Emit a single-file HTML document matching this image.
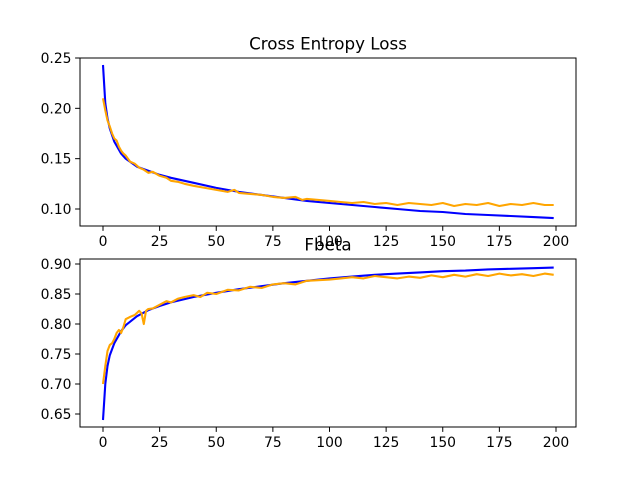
<!DOCTYPE html>
<html><head><meta charset="utf-8"><style>
body{margin:0;background:#fff}
svg{display:block;font-family:"DejaVu Sans","Liberation Sans",sans-serif}
</style></head><body>
<svg id="chart" width="640" height="480" viewBox="0 0 640 480"></svg>
<script>
// ---- data ----
const lossBlueX=[0,1,2,3,5,8,10,15,20,25,30,40,50,60,70,80,90,100,110,120,130,140,150,160,170,180,190,199];
const lossBlueY=[0.243,0.205,0.190,0.180,0.167,0.155,0.150,0.142,0.138,0.134,0.131,0.126,0.121,0.117,0.114,0.111,0.108,0.106,0.104,0.102,0.100,0.098,0.097,0.095,0.094,0.093,0.092,0.091];
const lossOrangeX=[0,1,2,3,4,5,6,7,8,9,10,12,14,16,18,20,22,25,28,30,33,36,40,45,50,55,58,60,65,70,75,80,85,88,90,95,100,105,110,115,120,125,130,135,140,145,150,155,160,165,170,175,180,185,190,195,199];
const lossOrangeY=[0.210,0.198,0.188,0.182,0.175,0.170,0.168,0.162,0.158,0.155,0.153,0.147,0.145,0.141,0.139,0.136,0.137,0.133,0.131,0.128,0.127,0.125,0.123,0.121,0.119,0.117,0.119,0.116,0.115,0.114,0.112,0.111,0.112,0.109,0.110,0.109,0.108,0.107,0.106,0.107,0.105,0.106,0.104,0.106,0.105,0.104,0.106,0.103,0.105,0.104,0.106,0.103,0.105,0.104,0.106,0.104,0.104];
const fbBlueX=[0,1,2,3,5,8,10,15,20,25,30,40,50,60,70,80,90,100,110,120,130,140,150,160,170,180,190,199];
const fbBlueY=[0.640,0.700,0.730,0.748,0.768,0.788,0.798,0.813,0.823,0.830,0.836,0.845,0.852,0.858,0.863,0.868,0.872,0.876,0.879,0.882,0.884,0.886,0.888,0.889,0.891,0.892,0.893,0.894];
const fbOrangeX=[0,1,2,3,4,5,6,7,8,9,10,12,14,16,17,18,19,20,22,25,28,30,33,36,40,43,46,50,55,60,65,70,75,80,85,90,95,100,105,110,115,120,125,130,135,140,145,150,155,160,165,170,175,180,185,190,195,199];
const fbOrangeY=[0.700,0.730,0.755,0.765,0.768,0.775,0.785,0.790,0.785,0.795,0.808,0.812,0.815,0.822,0.818,0.800,0.822,0.825,0.826,0.832,0.838,0.836,0.842,0.845,0.848,0.845,0.852,0.850,0.857,0.856,0.862,0.860,0.866,0.868,0.866,0.872,0.873,0.874,0.876,0.878,0.876,0.880,0.878,0.876,0.879,0.877,0.881,0.878,0.882,0.879,0.883,0.880,0.884,0.881,0.883,0.880,0.884,0.882];
const xTicks=[0,25,50,75,100,125,150,175,200];
const lossTicks=[0.10,0.15,0.20,0.25];
const fbTicks=[0.65,0.70,0.75,0.80,0.85,0.90];

const NS="http://www.w3.org/2000/svg";
const svg=document.getElementById('chart');
function el(t,a){const e=document.createElementNS(NS,t);for(const k in a)e.setAttribute(k,a[k]);svg.appendChild(e);return e;}
const xs=v=>103+v*(556-103)/200;

function panel(name,top,bottom,yScale,ticks,title,series){
  series.forEach(s=>{
    const d=s.x.map((v,i)=>(i?'L':'M')+xs(v).toFixed(1)+','+yScale(s.y[i]).toFixed(1)).join('');
    const p=el('path',{d:d,fill:'none',stroke:s.c,'stroke-width':2.1,'stroke-linejoin':'round'});
    
    
  });
  const r=el('rect',{x:80,y:top,width:496,height:bottom-top,fill:'none',stroke:'#000','stroke-width':1});
  
  
  xTicks.forEach(t=>{
    const x=xs(t);
    el('line',{x1:x,x2:x,y1:bottom,y2:bottom+4.9,stroke:'#000'});
    const tx=el('text',{x:x,y:bottom+20,'font-size':13.9,'text-anchor':'middle'});
    tx.textContent=t;
    
    
  });
  ticks.forEach(t=>{
    const y=yScale(t);
    el('line',{x1:75.1,x2:80,y1:y,y2:y,stroke:'#000'});
    const tx=el('text',{x:71.5,y:y+5,'font-size':13.9,'text-anchor':'end'});
    tx.textContent=t.toFixed(2);
    
    
  });
  const tt=el('text',{x:328,y:top-8.5,'font-size':16.7,'text-anchor':'middle'});
  tt.textContent=title;
  
  
}
const lossY=v=>209-(v-0.10)*1006.7;
const fbY=v=>414-(v-0.65)*600;
panel('loss',58,226,lossY,lossTicks,'Cross Entropy Loss',[
  {x:lossBlueX,y:lossBlueY,c:'#0000ff',n:'loss-train-line'},
  {x:lossOrangeX,y:lossOrangeY,c:'#ffa500',n:'loss-test-line'}]);
panel('fbeta',259,427,fbY,fbTicks,'Fbeta',[
  {x:fbBlueX,y:fbBlueY,c:'#0000ff',n:'fbeta-train-line'},
  {x:fbOrangeX,y:fbOrangeY,c:'#ffa500',n:'fbeta-test-line'}]);
</script>
</body></html>
